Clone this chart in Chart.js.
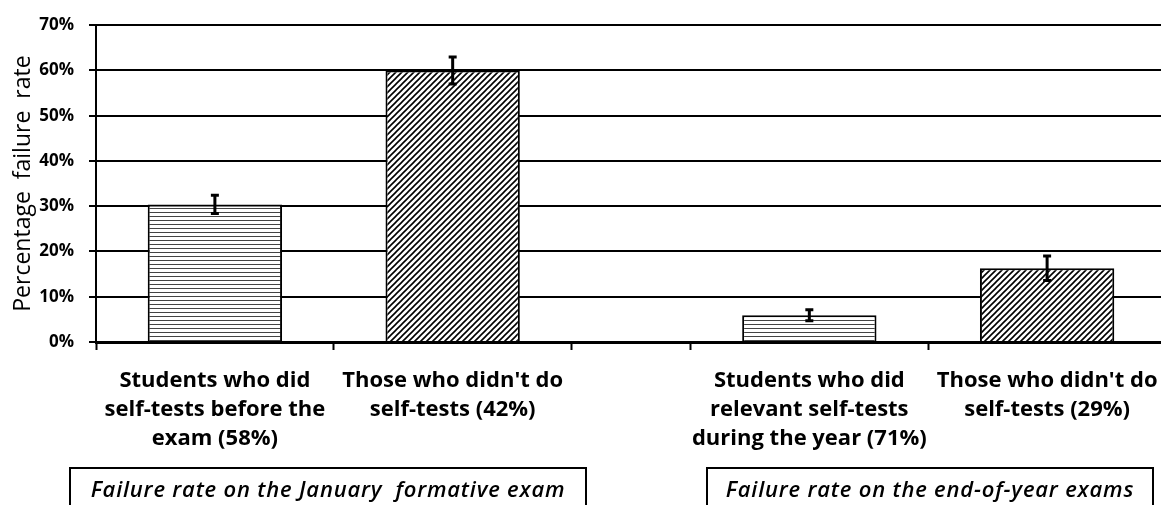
<!DOCTYPE html>
<html lang="en">
<head>
    <meta charset="UTF-8">
    <title>Failure rate and self-tests</title>
    <script src="https://cdn.jsdelivr.net/npm/chart.js"></script>
    <style>
        body {
            margin: 0;
            padding: 0;
            background: #fff;
            overflow: hidden;
        }
        #wrap {
            position: relative;
            /* a bit wider than the window: the last category runs off the right edge */
            width: 1182px;
            height: 505px;
        }
        .group-box {
            position: absolute;
            top: 467px;
            height: 60px;
            border: 2px solid #000;
            box-sizing: border-box;
            font-family: "Open Sans", sans-serif;
            font-style: italic;
            font-weight: 600;
            font-size: 22px;
            letter-spacing: 0.8px;
            text-align: center;
            padding-top: 4px;
            color: #000;
            white-space: pre;
        }
    </style>
</head>
<body>
    <div id="wrap">
        <canvas id="chart"></canvas>
        <div class="group-box" style="left:69px; width:518px;">Failure rate on the January  formative exam</div>
        <div class="group-box" style="left:706px; width:448px;">Failure rate on the end-of-year exams</div>
    </div>

    <script>
        // data
        var categories = [
            ['Students who did', 'self-tests before the', 'exam (58%)'],
            ["Those who didn't do", 'self-tests (42%)'],
            ['Students who did', 'relevant self-tests', 'during the year (71%)'],
            ["Those who didn't do", 'self-tests (29%)']
        ];
        var groupOf = [0, 0, 1, 1];          // which exam each bar belongs to
        var didTests = [true, false, true, false];
        var failureRate = [30.4, 60.0, 5.9, 16.3];
        var errorMargin = [2.0, 3.0, 1.2, 2.7];
        var yTicks = [0, 10, 20, 30, 40, 50, 60, 70];

        // each category takes 2 units, the two exams are split by a 1 unit gap
        var slot = categories.map(function(c, i) { return 2 * i + 1 + groupOf[i]; });
        var boundaries = [];
        categories.forEach(function(c, i) {
            boundaries.push(slot[i] - 1, slot[i] + 1);
        });
        var xMax = slot[slot.length - 1] + 1;

        var canvas = document.getElementById('chart');
        var ctx = canvas.getContext('2d');

        function hatch(kind) {
            var c = document.createElement('canvas');
            var g = c.getContext('2d');
            if (kind === 'h') {
                c.width = 4; c.height = 4;
                g.fillStyle = '#fff'; g.fillRect(0, 0, 4, 4);
                g.fillStyle = '#444'; g.fillRect(0, 0, 4, 1);
            } else {
                c.width = 6; c.height = 6;
                g.fillStyle = '#fff'; g.fillRect(0, 0, 6, 6);
                g.strokeStyle = '#000'; g.lineWidth = 1.6;
                g.beginPath();
                g.moveTo(-1, 7); g.lineTo(7, -1);
                g.moveTo(-4, 4); g.lineTo(4, -4);
                g.moveTo(2, 10); g.lineTo(10, 2);
                g.stroke();
            }
            return ctx.createPattern(c, 'repeat');
        }
        var hPattern = hatch('h');
        var dPattern = hatch('d');

        var errorBars = {
            id: 'errorBars',
            afterDatasetsDraw: function(chart) {
                var y = chart.scales.y;
                var meta = chart.getDatasetMeta(0);
                var c = chart.ctx;
                c.save();
                c.strokeStyle = '#000';
                c.lineWidth = 3;
                meta.data.forEach(function(bar, i) {
                    var top = y.getPixelForValue(failureRate[i] + errorMargin[i]);
                    var bot = y.getPixelForValue(failureRate[i] - errorMargin[i]);
                    c.beginPath();
                    c.moveTo(bar.x, top); c.lineTo(bar.x, bot);
                    c.moveTo(bar.x - 4, top); c.lineTo(bar.x + 4, top);
                    c.moveTo(bar.x - 4, bot); c.lineTo(bar.x + 4, bot);
                    c.stroke();
                });
                c.restore();
            }
        };

        new Chart(canvas, {
            type: 'bar',
            data: {
                datasets: [{
                    data: failureRate.map(function(v, i) { return { x: slot[i], y: v }; }),
                    backgroundColor: didTests.map(function(d) { return d ? hPattern : dPattern; }),
                    borderColor: '#000',
                    borderWidth: 2,
                    categoryPercentage: 1,
                    barPercentage: 1.13
                }]
            },
            options: {
                responsive: true,
                maintainAspectRatio: false,
                animation: false,
                layout: { padding: { top: 23, left: 0, right: 0, bottom: 0 } },
                plugins: {
                    legend: { display: false },
                    tooltip: { enabled: false }
                },
                scales: {
                    x: {
                        type: 'linear',
                        min: 0,
                        max: xMax,
                        offset: false,
                        afterBuildTicks: function(scale) {
                            var t = [];
                            for (var v = 0; v <= xMax; v++) t.push({ value: v });
                            scale.ticks = t;
                        },
                        afterFit: function(scale) { scale.height = 163; },
                        border: { color: '#000', width: 3 },
                        grid: {
                            drawOnChartArea: false,
                            offset: false,
                            tickLength: 8,
                            tickWidth: 2,
                            tickColor: function(c) {
                                return c.tick && boundaries.indexOf(c.tick.value) >= 0 ? '#000' : 'rgba(0,0,0,0)';
                            }
                        },
                        ticks: {
                            autoSkip: false,
                            maxRotation: 0,
                            minRotation: 0,
                            padding: 16,
                            color: '#000',
                            font: { family: 'Open Sans', size: 22, weight: 'bold', lineHeight: 1.32 },
                            callback: function(v) {
                                var i = slot.indexOf(v);
                                return i >= 0 ? categories[i] : '';
                            }
                        }
                    },
                    y: {
                        min: 0,
                        max: 70,
                        afterBuildTicks: function(scale) {
                            scale.ticks = yTicks.map(function(v) { return { value: v }; });
                        },
                        afterFit: function(scale) { scale.width = 96; },
                        border: { color: '#000', width: 2 },
                        grid: {
                            color: '#000',
                            lineWidth: 2,
                            tickLength: 7
                        },
                        ticks: {
                            padding: 15,
                            color: '#000',
                            font: { family: 'Open Sans', size: 17, weight: 'bold' },
                            callback: function(v) { return v + '%'; }
                        },
                        title: {
                            display: true,
                            text: 'Percentage  failure  rate',
                            color: '#000',
                            font: { family: 'Open Sans', size: 23 },
                            padding: { top: 10, bottom: 0 }
                        }
                    }
                }
            },
            plugins: [errorBars]
        });
    </script>
</body>
</html>
